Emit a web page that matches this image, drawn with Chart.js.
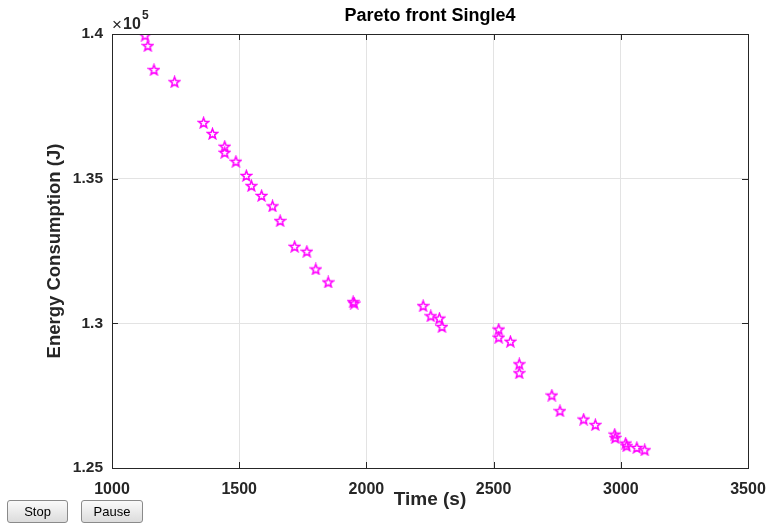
<!DOCTYPE html>
<html>
<head>
<meta charset="utf-8">
<script src="https://cdn.jsdelivr.net/npm/chart.js@4"></script>
<style>
  html, body { margin: 0; padding: 0; background: #fff; }
  #wrap { position: relative; width: 768px; height: 525px; }
  canvas { display: block; }
  .btn {
    position: absolute; top: 500px; height: 23px;
    font: 13px "Liberation Sans", Arial, sans-serif; color: #000;
    background: linear-gradient(#fafafa, #dcdcdc);
    border: 1px solid #8a8a8a; border-radius: 3px; padding: 0;
  }
</style>
</head>
<body>
<div id="wrap">
  <canvas id="chart" width="768" height="525"></canvas>
  <button class="btn" style="left:7px;width:61px">Stop</button>
  <button class="btn" style="left:81px;width:62px">Pause</button>
</div>
<script>
// ---------------------------------------------------------------- data
const timeValues = [
  1130, 1141, 1165, 1246, 1360, 1395, 1443, 1443, 1487, 1528, 1548, 1588,
  1631, 1661, 1718, 1766, 1801, 1850, 1948, 1952,
  2223, 2253, 2287, 2297, 2520, 2520, 2566, 2601, 2601, 2729, 2761,
  2854, 2900, 2976, 2978, 3019, 3023, 3063, 3094
];
const energyValues = [
  139960, 139600, 138770, 138350, 136940, 136560, 136120, 135910, 135600, 135110, 134760, 134420,
  134060, 133550, 132660, 132490, 131880, 131430, 130750, 130700,
  130610, 130260, 130180, 129890, 129800, 129520, 129380, 128600, 128290, 127520, 126980,
  126690, 126500, 126170, 126050, 125860, 125770, 125710, 125630
];
const xTicks = [1000, 1500, 2000, 2500, 3000, 3500];
const yTicks = [125000, 130000, 135000, 140000];

const plotLeft = 112, plotRight = 748, plotTop = 34, plotBottom = 468;
const textColor = '#262626';
const fontFamily = '"Liberation Sans", Arial, Helvetica, sans-serif';

// pentagram marker, outline only
function makeStar(size, color) {
  const c = document.createElement('canvas');
  c.width = size; c.height = size;
  const g = c.getContext('2d');
  const cx = size / 2, cy = size / 2 + 0.6, R = size / 2 - 1.1, r = R * 0.42;
  g.beginPath();
  for (let i = 0; i < 10; i++) {
    const rad = i % 2 === 0 ? R : r;
    const a = -Math.PI / 2 + i * Math.PI / 5;
    const px = cx + rad * Math.cos(a), py = cy + rad * Math.sin(a);
    if (i === 0) g.moveTo(px, py); else g.lineTo(px, py);
  }
  g.closePath();
  g.strokeStyle = color;
  g.lineWidth = 1.5;
  g.stroke();
  return c;
}
const starImg = makeStar(13, '#ff00ff');

// ------------------------------------------------------- decorations
const matlabFrame = {
  id: 'matlabFrame',
  afterDraw(chart) {
    const ctx = chart.ctx;
    const xs = chart.scales.x, ys = chart.scales.y;
    const L = xs.left, R = xs.right, T = ys.top, B = ys.bottom;
    ctx.save();
    ctx.strokeStyle = textColor;
    ctx.lineWidth = 1;
    ctx.strokeRect(Math.round(L) + 0.5, Math.round(T) + 0.5, Math.round(R - L), Math.round(B - T));
    // inward ticks
    ctx.beginPath();
    xTicks.forEach(v => {
      const p = Math.round(xs.getPixelForValue(v)) + 0.5;
      ctx.moveTo(p, B); ctx.lineTo(p, B - 6);
      ctx.moveTo(p, T); ctx.lineTo(p, T + 6);
    });
    yTicks.forEach(v => {
      const p = Math.round(ys.getPixelForValue(v)) + 0.5;
      ctx.moveTo(L, p); ctx.lineTo(L + 6, p);
      ctx.moveTo(R, p); ctx.lineTo(R - 6, p);
    });
    ctx.stroke();

    ctx.textAlign = 'center';
    ctx.textBaseline = 'middle';
    ctx.font = 'bold 18px ' + fontFamily;
    ctx.fillStyle = '#000';
    ctx.fillText('Pareto front Single4', (L + R) / 2, 16);

    ctx.fillStyle = textColor;
    ctx.font = 'bold 19px ' + fontFamily;
    ctx.fillText('Time (s)', (L + R) / 2, 500);

    ctx.save();
    ctx.translate(55, (T + B) / 2);
    ctx.rotate(-Math.PI / 2);
    ctx.font = 'bold 18.5px ' + fontFamily;
    ctx.fillText('Energy Consumption (J)', 0, 0);
    ctx.restore();

    // exponent label
    ctx.textAlign = 'left';
    ctx.font = '17px ' + fontFamily;
    ctx.fillText('\u00d7', 112, 25);
    ctx.font = 'bold 16px ' + fontFamily;
    ctx.fillText('10', 123, 25);
    ctx.font = 'bold 12px ' + fontFamily;
    ctx.fillText('5', 142, 16);
    ctx.restore();
  }
};

// ------------------------------------------------------------- chart
new Chart(document.getElementById('chart'), {
  type: 'scatter',
  data: {
    datasets: [{
      data: timeValues.map((t, i) => ({ x: t, y: energyValues[i] })),
      pointStyle: starImg,
      pointRadius: 6,
      pointHoverRadius: 6
    }]
  },
  options: {
    responsive: false,
    animation: false,
    layout: { padding: { top: plotTop, right: 768 - plotRight, left: 0, bottom: 0 } },
    plugins: { legend: { display: false }, tooltip: { enabled: false } },
    scales: {
      x: {
        type: 'linear', min: 1000, max: 3500,
        afterBuildTicks: s => { s.ticks = xTicks.map(v => ({ value: v })); },
        afterFit: s => { s.height = 525 - plotBottom; s.paddingLeft = 0; s.paddingRight = 0; },
        grid: { color: '#e3e3e3', drawTicks: false },
        border: { display: false },
        ticks: {
          color: textColor, padding: 12,
          font: { family: fontFamily, size: 16, weight: 'bold' },
          maxRotation: 0,
          callback: v => String(v)
        }
      },
      y: {
        type: 'linear', min: 125000, max: 140000,
        afterBuildTicks: s => { s.ticks = yTicks.map(v => ({ value: v })); },
        afterFit: s => { s.width = plotLeft; s.paddingTop = 0; s.paddingBottom = 0; },
        grid: { color: '#e3e3e3', drawTicks: false },
        border: { display: false },
        ticks: {
          color: textColor, padding: 9,
          font: { family: fontFamily, size: 15.5, weight: 'bold' },
          callback: v => String(parseFloat((v / 1e5).toFixed(2)))
        }
      }
    }
  },
  plugins: [matlabFrame]
});
</script>
</body>
</html>
